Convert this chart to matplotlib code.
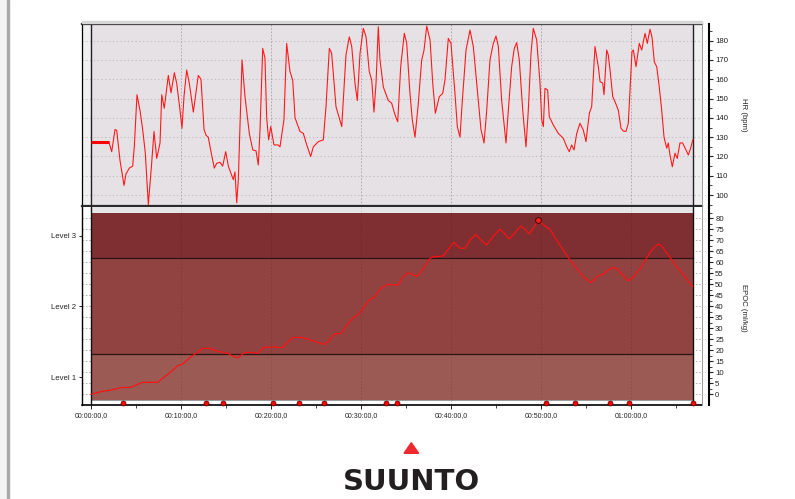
import matplotlib
matplotlib.use('Agg')
import matplotlib.pyplot as plt
from matplotlib.ticker import FixedLocator, FuncFormatter
from matplotlib.patches import Rectangle, Polygon
import numpy as np

plt.rcParams['font.family'] = ['Liberation Sans', 'DejaVu Sans']

# ---------------- data (time in minutes) ----------------
hr_time = [1.97, 2.30, 2.67, 2.86, 3.22, 3.67, 3.89, 4.26, 4.63, 4.81, 5.11, 5.44, 5.74, 6.03, 6.37,
           6.74, 7.00, 7.30, 7.67, 7.86, 8.14, 8.59, 8.89, 9.26, 9.52, 9.89, 10.11, 10.33, 10.63,
           10.92, 11.37, 11.92, 12.22, 12.56, 12.78, 13.03, 13.33, 13.70, 13.97, 14.33, 14.63,
           14.97, 15.26, 15.81, 16.00, 16.19, 16.37, 16.56, 16.78, 17.11, 17.59, 17.97, 18.33,
           18.59, 18.78, 19.08, 19.33, 19.52, 19.74, 19.97, 20.33, 20.78, 21.00, 21.44, 21.74,
           22.11, 22.41, 22.67, 23.22, 23.59, 23.97, 24.41, 24.70, 25.26, 25.81, 26.11, 26.48,
           26.74, 27.22, 27.86, 28.33, 28.70, 28.97, 29.33, 29.59, 29.89, 30.26, 30.56, 30.92,
           31.19, 31.44, 31.67, 31.92, 32.11, 32.48, 33.03, 33.41, 33.78, 34.08, 34.41, 34.81,
           35.08, 35.44, 35.70, 36.00, 36.37, 36.74, 37.00, 37.30, 37.67, 37.97, 38.26, 38.70,
           39.08, 39.33, 39.70, 40.00, 40.44, 40.70, 41.00, 41.26, 41.67, 42.11, 42.48, 43.03,
           43.33, 43.67, 43.97, 44.33, 44.70, 45.00, 45.26, 45.63, 46.11, 46.37, 46.74, 47.03,
           47.30, 47.59, 47.97, 48.33, 48.59, 48.89, 49.14, 49.52, 49.89, 50.08, 50.26, 50.44,
           50.74, 50.92, 51.37, 51.92, 52.48, 52.86, 53.14, 53.41, 53.67, 53.97, 54.33, 54.70,
           55.00, 55.37, 55.63, 56.00, 56.37, 56.56, 56.86, 57.00, 57.30, 57.48, 57.67, 57.97,
           58.22, 58.59, 58.89, 59.14, 59.44, 59.70, 59.89, 60.11, 60.26, 60.56, 60.92, 61.19,
           61.56, 61.81, 62.11, 62.33, 62.59, 62.86, 63.14, 63.41, 63.67, 63.97, 64.14, 64.33,
           64.59, 64.89, 65.14, 65.44, 65.74, 66.11, 66.37, 66.63, 66.86]
hr_bpm = [127.7, 122.5, 134, 133.5, 118, 105, 111, 114, 115, 125, 152, 144, 134, 122, 95,
          116.5, 133, 119, 127, 152, 145, 162, 153, 163.4, 158, 144, 134.6, 151, 164.8,
          158, 143, 162, 160, 134, 131, 130, 122.5, 114, 116.5, 117, 115,
          122.5, 115, 108, 112, 96, 108, 136, 170, 151, 132, 123.4, 123,
          115.6, 134, 176, 171, 140, 128.6, 135.5, 126, 126, 125, 139, 178.6,
          164, 159.6, 140, 133, 132, 126, 120, 125, 127.7, 128.6, 145.8, 176,
          173.5, 145.8, 135.5, 172.6, 182, 177, 158, 149, 173.5, 186.4, 182, 164,
          159.6, 143, 158, 187.2, 170, 156, 149, 147.6, 141.5, 138, 166.5, 183.8,
          178.6, 152.7, 139, 130, 147.6, 170, 175, 187.6, 180.4, 158, 142.4, 151,
          152.7, 159.6, 181.2, 178.6, 152.7, 135.5, 130, 149, 175.2, 185.5, 177, 149,
          134, 127, 144, 170, 178.6, 182.4, 177, 149, 127, 144, 166.5, 176,
          179, 170, 144, 125, 144, 173.5, 186.4, 180.4, 158, 139, 135.5, 155.3,
          154.5, 140.6, 136.3, 132, 129.4, 125, 122.5, 126, 123.4, 132, 137.2, 133.7,
          127.7, 142.4, 145.8, 177, 166.5, 158.8, 158, 152, 175.2, 172.6, 164.8, 151,
          148.4, 144, 134.6, 133.2, 133, 137.2, 154.5, 174.3, 175.2, 166.5, 178.6, 175.2,
          183.8, 178.6, 185.9, 182, 169, 166.5, 156, 144, 130, 124.3, 127, 120.8,
          114.7, 121.7, 119, 127, 127, 123.4, 120.8, 124.3, 128.6]
hr_gap_time = [0.0, 1.97]
hr_gap_bpm = [127.7, 127.7]

epoc_time = [0.0, 1.11, 2.22, 3.33, 4.44, 5.00, 5.74, 7.41, 7.96, 8.89, 9.63, 10.19, 11.11, 11.85,
             12.41, 13.15, 13.89, 14.63, 15.19, 15.74, 16.30, 17.04, 17.78, 18.52, 19.26, 20.19,
             21.30, 21.85, 22.41, 23.33, 24.44, 25.19, 25.93, 26.30, 27.04, 27.78, 28.33, 29.07,
             29.63, 30.37, 30.93, 31.48, 32.22, 32.96, 33.70, 34.15, 34.70, 35.26, 35.81, 36.30,
             36.93, 37.67, 38.04, 39.15, 39.70, 40.33, 41.00, 41.56, 42.11, 42.74, 43.33, 43.96,
             44.70, 45.44, 45.93, 46.44, 47.11, 47.78, 48.30, 48.67, 49.15, 49.70, 50.26, 51.00,
             51.74, 52.48, 53.22, 53.96, 54.70, 55.56, 56.19, 56.93, 57.48, 58.04, 58.52, 59.15,
             59.78, 60.44, 61.19, 61.93, 62.48, 63.04, 63.41, 64.15, 65.07, 66.00, 66.85]
epoc_value = [0.0, 1.2, 1.95, 3.0, 3.2, 4.2, 5.45, 5.45, 7.3, 10.3, 13.0, 13.8, 17.1, 19.1,
              20.9, 20.9, 19.8, 19.1, 18.6, 17.4, 16.5, 18.9, 19.1, 18.6, 21.4, 21.5,
              21.2, 23.6, 25.8, 25.9, 24.7, 23.6, 22.7, 23.9, 27.4, 27.7, 30.7, 34.5,
              36.0, 39.8, 42.9, 44.1, 48.2, 50.0, 49.7, 49.7, 53.5, 55.4, 54.2, 53.8,
              57.3, 61.8, 62.5, 62.9, 65.9, 69.1, 66.4, 66.4, 70.1, 72.7, 70.1, 67.9,
              71.9, 75.0, 73.2, 70.6, 73.5, 76.5, 74.7, 72.9, 75.5, 79.2, 77.0, 75.0,
              70.1, 65.6, 61.0, 57.3, 53.5, 50.7, 53.5, 54.7, 56.5, 57.7, 56.8, 53.8,
              51.5, 54.2, 58.0, 63.3, 66.4, 68.3, 67.4, 63.3, 58.0, 53.5, 49.0]

lap_times = [3.59, 12.78, 14.70, 20.26, 23.08, 25.89, 32.78, 34.0, 50.56, 53.81, 57.67, 59.81, 66.85]

level_names = ['Level 1', 'Level 2', 'Level 3']
level_lows = [-2.6, 18.3, 61.8]
level_highs = [18.3, 61.8, 82.4]
level_colors = ['#9b5a54', '#914341', '#7f2e32']

hr_ticks = [100, 110, 120, 130, 140, 150, 160, 170, 180]
epoc_ticks = [0, 5, 10, 15, 20, 25, 30, 35, 40, 45, 50, 55, 60, 65, 70, 75, 80]
time_ticks = [0, 10, 20, 30, 40, 50, 60]

# ---------------- layout ----------------
W, H = 795, 499
fig = plt.figure(figsize=(W / 100, H / 100), dpi=100)
fig.patch.set_facecolor('white')


def rect(l, t, r, b):
    return [l / W, 1 - b / H, (r - l) / W, (b - t) / H]


def fmt_time(m, pos=None):
    m = int(round(m))
    return f'{m // 60:02d}:{m % 60:02d}:00,0'


# left page decoration
fig.patches.append(Rectangle((0, 0), 7 / W, 1, transform=fig.transFigure, color='#f4f4f4', zorder=0))
fig.patches.append(Rectangle((7 / W, 0), 2 / W, 1, transform=fig.transFigure, color='#a9a9a9', zorder=0))
# light band above top panel
fig.patches.append(Rectangle((82 / W, 1 - 23 / H), 620 / W, 2.5 / H, transform=fig.transFigure,
                             color='#d6d6d6', zorder=0))

x_lo, x_hi = -1.0, -1.0 + 620 / 9.0
t_end = hr_time[-1]
tick_col = '#222222'

# ---------------- HR panel ----------------
ax1 = fig.add_axes(rect(82, 24, 702, 206))
ax1.set_facecolor('#f0f0f0')
hr_lo, hr_hi = 94.35, 188.65
ax1.set_xlim(x_lo, x_hi)
ax1.set_ylim(hr_lo, hr_hi)
ax1.axvspan(0, t_end, color='#e6e1e5', lw=0, zorder=0.5)
for h in hr_ticks:
    ax1.axhline(h, color='#c4bfc4', lw=0.8, ls=(0, (1.2, 2.2)), zorder=1)
for t in time_ticks[1:]:
    ax1.axvline(t, color='#a3a3a3', lw=0.6, ls=(0, (2, 2)), zorder=1)
ax1.axvline(0, color='#222', lw=1.0, zorder=3)
ax1.axvline(t_end, color='#222', lw=1.0, zorder=3)
ax1.plot(hr_time, hr_bpm, color='#ff1a1a', lw=0.8, zorder=4)
ax1.plot(hr_gap_time, hr_gap_bpm, color='#ff0000', lw=2.2, solid_capstyle='butt', zorder=4)

for s in ['top', 'bottom']:
    ax1.spines[s].set_linewidth(1.6)
    ax1.spines[s].set_color('#2a2a2a')
ax1.spines['left'].set_linewidth(0.9)
ax1.spines['right'].set_position(('outward', 5))
ax1.spines['right'].set_linewidth(1.5)
ax1.plot([1, 1], [0, 1], transform=ax1.transAxes, color='#9a9a9a', lw=0.7, clip_on=False, zorder=5)
ax1.yaxis.tick_right()
ax1.yaxis.set_major_locator(FixedLocator(hr_ticks))
ax1.yaxis.set_minor_locator(FixedLocator([h + 5 for h in hr_ticks[:-1]] + [95, 185]))
ax1.tick_params(axis='y', which='major', length=3, width=0.8, labelsize=5.6, pad=1.5, colors=tick_col)
ax1.tick_params(axis='y', which='minor', length=1.8, width=0.6, colors=tick_col)
ax1.tick_params(axis='x', which='both', bottom=False, labelbottom=False)

# ---------------- EPOC panel ----------------
ax2 = fig.add_axes(rect(82, 207, 702, 405))
ax2.set_facecolor('white')
ep_lo, ep_hi = -4.86, 85.14
ax2.set_xlim(x_lo, x_hi)
ax2.set_ylim(ep_lo, ep_hi)
for v in epoc_ticks:
    ax2.axhline(v, color='#a8a8a8', lw=0.6, ls=(0, (2, 2)), zorder=0.5)
for lo, hi, c in zip(level_lows, level_highs, level_colors):
    ax2.fill_between([0, t_end], lo, hi, color=c, lw=0, zorder=1)
ax2.fill_between([0, t_end], level_highs[-1], ep_hi, color='#e6e6e6', lw=0, zorder=1)
for b in level_lows[1:]:
    ax2.plot([0, t_end], [b, b], color='#2a1414', lw=0.9, zorder=2)
ax2.plot([0, t_end], [level_lows[0], level_lows[0]], color='#888888', lw=0.6, zorder=2)
for t in time_ticks[1:]:
    ax2.axvline(t, color='black', alpha=0.13, lw=0.6, ls=(0, (2, 2)), zorder=2)
ax2.axvline(0, color='#111', lw=1.0, zorder=3)
ax2.axvline(t_end, color='#111', lw=1.0, zorder=3)
ax2.plot(epoc_time, epoc_value, color='#ff1010', lw=0.85, zorder=4)
ipk = int(np.argmax(epoc_value))
ax2.plot([epoc_time[ipk]], [epoc_value[ipk]], 'o', ms=4.2, mfc='#ff1a1a', mec='#3a0a0a', mew=0.7, zorder=6)
lap_y = (ep_lo + level_lows[0]) / 2
ax2.plot(lap_times, [lap_y] * len(lap_times), 'o', ms=3.6, mfc='#ff0000', mec='#5a0000', mew=0.5,
         zorder=6, clip_on=False)

ax2.spines['top'].set_visible(False)
ax2.spines['right'].set_visible(False)
ax2.spines['bottom'].set_linewidth(1.2)
ax2.spines['left'].set_linewidth(1.0)
ax2.plot([1, 1], [0, 1], transform=ax2.transAxes, color='#9a9a9a', lw=0.7, clip_on=False, zorder=5)

centers = [(lo + hi) / 2 for lo, hi in zip(level_lows, level_highs)]
ax2.set_yticks(centers)
ax2.set_yticklabels(level_names)
ax2.tick_params(axis='y', which='major', length=2.5, width=0.7, labelsize=5.6, pad=1.5, colors=tick_col)
ax2.set_xticks(time_ticks)
ax2.xaxis.set_major_formatter(FuncFormatter(fmt_time))
ax2.xaxis.set_minor_locator(FixedLocator([t + 5 for t in time_ticks]))
ax2.tick_params(axis='x', which='major', length=3, width=0.7, labelsize=5.0, pad=2.0, colors=tick_col)
ax2.tick_params(axis='x', which='minor', length=1.8, width=0.6, colors=tick_col)

ax2r = ax2.twinx()
ax2r.set_ylim(ep_lo, ep_hi)
for s in ['top', 'bottom', 'left']:
    ax2r.spines[s].set_visible(False)
ax2r.spines['right'].set_position(('outward', 5))
ax2r.spines['right'].set_linewidth(1.5)
ax2r.yaxis.set_major_locator(FixedLocator(epoc_ticks))
ax2r.yaxis.set_minor_locator(FixedLocator([v + 2.5 for v in epoc_ticks]))
ax2r.tick_params(axis='y', which='major', length=3, width=0.8, labelsize=5.6, pad=1.5, colors=tick_col)
ax2r.tick_params(axis='y', which='minor', length=1.8, width=0.6, colors=tick_col)

# axis titles
fig.text(744 / W, 1 - 115 / H, 'HR (bpm)', rotation=270, fontsize=5.6, ha='center', va='center', color=tick_col)
fig.text(744 / W, 1 - 308 / H, 'EPOC (ml/kg)', rotation=270, fontsize=5.6, ha='center', va='center', color=tick_col)

# logo
fig.patches.append(Polygon([(404 / W, 1 - 453.3 / H), (418.7 / W, 1 - 453.3 / H), (411.3 / W, 1 - 442.7 / H)],
                           closed=True, transform=fig.transFigure, color='#ee2a2e', zorder=3))
fig.text(411.5 / W, 1 - 490.5 / H, 'SUUNTO', fontsize=21, fontweight='bold', family=['DejaVu Sans'],
         ha='center', va='baseline', color='#231f20')

fig.savefig('out.png', dpi=100)
